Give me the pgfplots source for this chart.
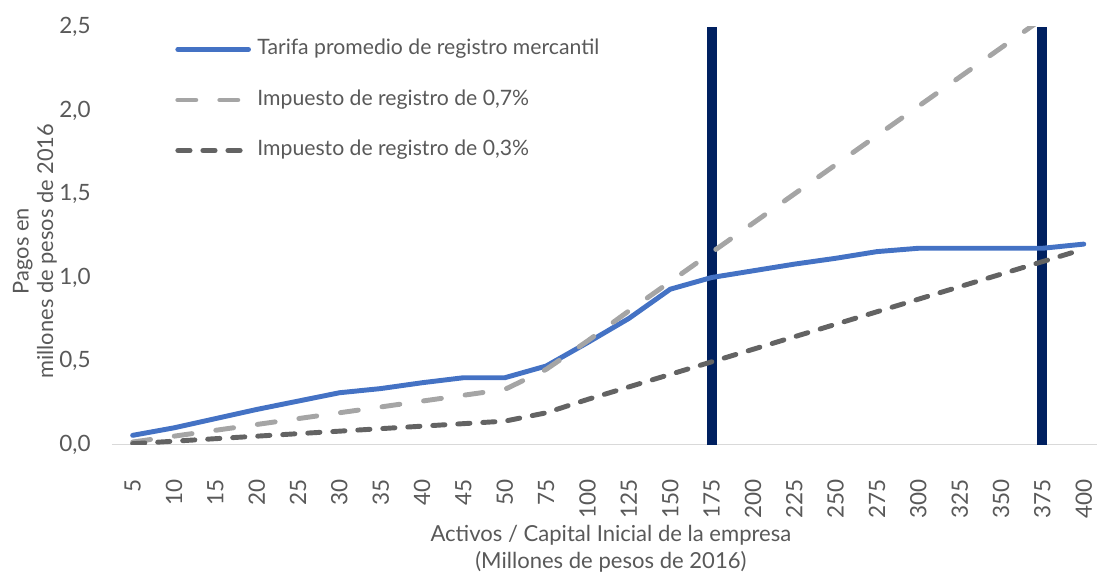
\documentclass[border=0pt]{standalone}
\usepackage{pgfplots}
\pgfplotsset{compat=1.18}
\usepackage{pgfplotstable}
\usepackage{fontspec}
\setmainfont{Lato}

\definecolor{serieblue}{HTML}{4472C4}
\definecolor{lightg}{HTML}{A5A5A5}
\definecolor{darkg}{HTML}{636363}
\definecolor{navybar}{HTML}{002060}
\definecolor{txt}{HTML}{595959}

% idx  categoria  tarifa  imp07  imp03
\pgfplotstableread{
idx cat tarifa imp07 imp03
0  5   0.055 0.015 0.005
1  10  0.100 0.050 0.020
2  15  0.155 0.085 0.035
3  20  0.210 0.120 0.050
4  25  0.260 0.155 0.065
5  30  0.310 0.190 0.080
6  35  0.335 0.225 0.095
7  40  0.370 0.260 0.110
8  45  0.400 0.295 0.125
9  50  0.400 0.330 0.140
10 75  0.470 0.450 0.190
11 100 0.610 0.620 0.270
12 125 0.755 0.800 0.345
13 150 0.930 0.975 0.420
14 175 1.000 1.150 0.495
15 200 1.040 1.325 0.570
16 225 1.080 1.500 0.645
17 250 1.115 1.675 0.720
18 275 1.155 1.850 0.795
19 300 1.175 2.025 0.870
20 325 1.175 2.200 0.945
21 350 1.175 2.375 1.020
22 375 1.175 2.550 1.095
23 400 1.200 2.725 1.170
}\datos

\begin{document}
\begin{tikzpicture}
\begin{axis}[
  name=ax,
  scale only axis,
  width=460pt, height=195pt,
  xmin=-0.5, xmax=23.32,
  ymin=0, ymax=2.5,
  axis x line*=bottom,
  axis y line*=left,
  x axis line style={draw=black!15, line width=0.8pt},
  y axis line style={draw=none},
  major tick length=0pt,
  xtick={0,...,23},
  xticklabels={5,10,15,20,25,30,35,40,45,50,75,100,125,150,175,200,225,250,275,300,325,350,375,400},
  ytick={0,0.5,...,2.5},
  xticklabel style={rotate=90, anchor=east, inner sep=0pt, font=\fontsize{10.5}{12}\selectfont, text=txt},
  xticklabel shift=16pt,
  yticklabel style={anchor=east, inner sep=0pt, font=\fontsize{10.5}{12}\selectfont, text=txt,
    /pgf/number format/.cd, fixed, fixed zerofill, precision=1, use comma, assume math mode=true},
  yticklabel shift=9.8pt,
  xlabel={Activos / Capital Inicial de la empresa\\(Millones de pesos de 2016)},
  xlabel style={at={(rel axis cs:0.5,0)}, anchor=north, yshift=-34pt, xshift=3pt, align=center,
    font=\fontsize{10.3}{12.6}\selectfont, text=txt},
  ylabel={Pagos en\\millones de pesos de 2016},
  ylabel style={at={(rel axis cs:-0.0783,0.463)}, anchor=center, align=center,
    font=\fontsize{10.2}{11.5}\selectfont, text=txt},
  legend style={at={(rel axis cs:0,1)}, anchor=north west, xshift=29.4pt, yshift=-5.8pt,
    draw=none, fill=none, inner sep=0pt, row sep=14.6pt,
    nodes={inner sep=0pt, text height=7pt, text depth=2pt},
    font=\fontsize{9.9}{11}\selectfont, text=txt,
    /tikz/every odd column/.append style={column sep=3pt}},
  legend cell align=left,
  legend image code/.code={\draw[#1] (0pt,0pt) -- (33pt,0pt);},
  clip=true,
]
% barras verticales de referencia (175 y 375)
\addplot[navybar, line width=4.7pt, forget plot] coordinates {(14,0) (14,2.5)};
\addplot[navybar, line width=4.7pt, forget plot] coordinates {(22,0) (22,2.5)};

\addplot[serieblue, line width=2.3pt, line join=round, line cap=round]
  table[x=idx, y=tarifa] {\datos};
\addlegendentry{Tarifa promedio de registro mercantil}

\addplot[lightg, line width=2.3pt, line cap=round, line join=round,
  dash pattern=on 8.4pt off 11.2pt]
  table[x=idx, y=imp07] {\datos};
\addlegendentry{Impuesto de registro de 0,7\%}

\addplot[darkg, line width=2.3pt, line cap=round, line join=round,
  dash pattern=on 5.7pt off 6pt]
  table[x=idx, y=imp03] {\datos};
\addlegendentry{Impuesto de registro de 0,3\%}
\end{axis}
\pgfresetboundingbox
\path[use as bounding box] ([shift={(-52.3pt,-59.3pt)}]ax.south west) rectangle ([shift={(0pt,12.6pt)}]ax.north east);
\end{tikzpicture}
\end{document}
